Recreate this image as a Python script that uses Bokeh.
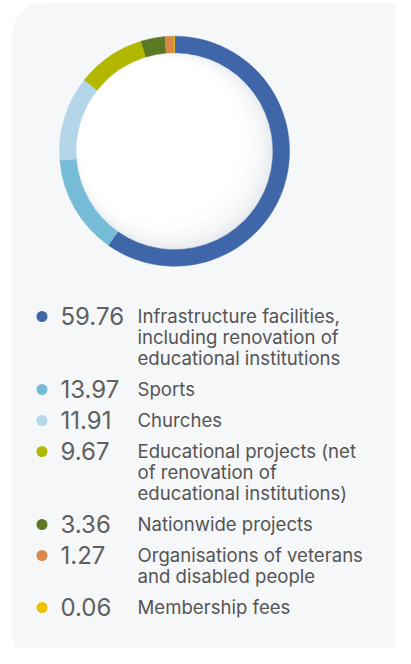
import math
from bokeh.plotting import figure
from bokeh.models import Range1d, BoxAnnotation, ColumnDataSource
from bokeh.core.properties import value
from bokeh.embed import file_html
from bokeh.resources import INLINE

# ---- data ----
values = [59.76, 13.97, 11.91, 9.67, 3.36, 1.27, 0.06]
value_labels = ["59.76", "13.97", "11.91", "9.67", "3.36", "1.27", "0.06"]
categories = [
    "Infrastructure facilities,\nincluding renovation of\neducational institutions",
    "Sports",
    "Churches",
    "Educational projects (net\nof renovation of\neducational institutions)",
    "Nationwide projects",
    "Organisations of veterans\nand disabled people",
    "Membership fees",
]
colors = ["#3e66a9", "#77bcd7", "#b3d6e8", "#b2b800", "#5a7922", "#d9884a", "#efc000"]

# ---- layout (page pixel coords; y data = -page y) ----
W, H = 395, 648
FONT = "Inter"
p = figure(width=W, height=H, output_backend="svg", toolbar_location=None,
           x_range=Range1d(8, 8 + W), y_range=Range1d(-(8 + H), -8),
           min_border=0, outline_line_color=None)
p.axis.visible = False
p.grid.visible = False
p.background_fill_color = "white"
p.border_fill_color = "white"

panel = BoxAnnotation(left=20, right=440, top=-10.5, bottom=-663,
                      fill_color="#f5f7f9", fill_alpha=1, line_color=None,
                      border_radius=(30, 30, 20, 20), level="underlay")
p.add_layout(panel)

cx, cy = 182, -158.7
r_out, r_in = 115, 98.5

# inner disc with soft shading toward lower-right
shade_steps = [0, 1, 2, 4, 6, 9, 13, 18]
shade_cols = ["#e1e6e9", "#e7ebee", "#ecf0f2", "#f1f3f5", "#f5f7f8", "#f9fafb", "#fcfdfd", "#ffffff"]
ang = math.radians(145)
xs = [cx + d * math.cos(ang) for d in shade_steps]
ys = [cy + d * math.sin(ang) for d in shade_steps]
rs = [r_in + 1 - d for d in shade_steps]
p.circle(x=xs, y=ys, radius=rs, fill_color=shade_cols, line_color=None)

# donut ring
total = sum(values)
cum = 0.0
starts, ends = [], []
for v in values:
    starts.append(math.pi / 2 - 2 * math.pi * cum / total)
    cum += v
    ends.append(math.pi / 2 - 2 * math.pi * cum / total)
ring = ColumnDataSource(dict(start=starts, end=ends, color=colors))
p.annular_wedge(x=cx, y=cy, inner_radius=r_in, outer_radius=r_out,
                start_angle="start", end_angle="end", direction="clock",
                fill_color="color", line_color="color", line_width=0.5, source=ring)

# legend
line_h = 21
gap = 10
row_y = 323
dot_x, num_x, lab_x = 49.5, 68, 145
dx, dy, dc, nx, ny, nt = [], [], [], [], [], []
lx, ly, lt = [], [], []
for lab, num, col in zip(categories, value_labels, colors):
    lines = lab.split("\n")
    dx.append(dot_x); dy.append(-(row_y + 1)); dc.append(col)
    nx.append(num_x); ny.append(-(row_y + 0.5)); nt.append(num)
    for k, ln in enumerate(lines):
        lx.append(lab_x); ly.append(-(row_y + k * line_h)); lt.append(ln)
    row_y += len(lines) * line_h + gap

p.scatter(x=dx, y=dy, size=11, marker="circle", fill_color=dc, line_color=None)
p.text(x=nx, y=ny, text=nt, text_font=value(FONT), text_font_size=value("24px"),
       text_color="#606060", text_baseline="middle", text_align="left")
p.text(x=lx, y=ly, text=lt, text_font=value(FONT), text_font_size=value("18.6px"),
       text_color="#555555", text_baseline="middle", text_align="left")

open("out.html", "w").write(file_html(p, INLINE))
